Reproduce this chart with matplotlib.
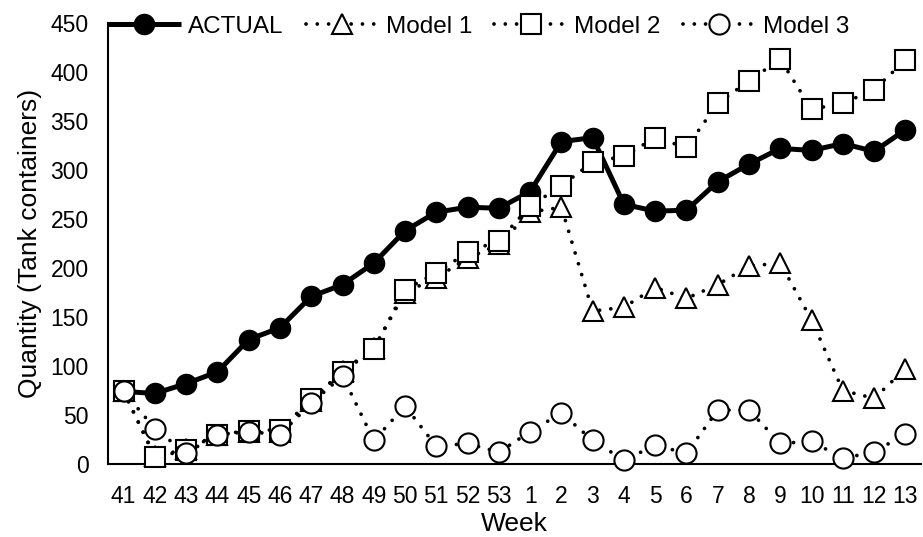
import matplotlib
matplotlib.use("Agg")
import matplotlib.pyplot as plt
import numpy as np

plt.rcParams["font.family"] = ["Liberation Sans", "DejaVu Sans"]

weeks = ["41", "42", "43", "44", "45", "46", "47", "48", "49", "50", "51", "52", "53",
         "1", "2", "3", "4", "5", "6", "7", "8", "9", "10", "11", "12", "13"]

actual = [74, 72, 82, 94, 127, 139, 171, 183, 205, 238, 257, 262, 261,
          278, 329, 333, 265, 258, 259, 288, 306, 322, 320, 327, 319, 341]
model1 = [74, 8, 15, 30, 33, 33, 64, 95, 118, 175, 190, 210, 224,
          257, 262, 156, 160, 180, 169, 183, 202, 205, 147, 75, 67, 97]
model2 = [74, 7, 14, 30, 34, 35, 66, 94, 117, 178, 195, 216, 228,
          263, 284, 308, 314, 333, 323, 368, 391, 413, 362, 368, 382, 412]
model3 = [74, 36, 11, 30, 33, 30, 62, 90, 24, 59, 18, 21, 12,
          33, 52, 24, 4, 19, 11, 55, 55, 21, 23, 6, 12, 31]

series_labels = ["ACTUAL", "Model 1", "Model 2", "Model 3"]
y_ticks = [0, 50, 100, 150, 200, 250, 300, 350, 400, 450]

fig = plt.figure(figsize=(9.23, 5.37), dpi=100)
ax = fig.add_axes([108 / 923, 73 / 537, 813 / 923, 441 / 537])

x = np.arange(len(weeks))
dotted = (0, (0.01, 3.0))

ax.plot(x, actual, color="black", lw=3.6, marker="o", ms=14.5,
        markerfacecolor="black", markeredgecolor="black", label=series_labels[0],
        solid_capstyle="butt", zorder=3, clip_on=False)
ax.plot(x, model1, color="black", lw=2.7, ls=dotted, dash_capstyle="round",
        marker="^", ms=15, markerfacecolor="white", markeredgecolor="black",
        markeredgewidth=1.5, label=series_labels[1], zorder=4, clip_on=False)
ax.plot(x, model2, color="black", lw=2.7, ls=dotted, dash_capstyle="round",
        marker="s", ms=14, markerfacecolor="white", markeredgecolor="black",
        markeredgewidth=1.5, label=series_labels[2], zorder=5, clip_on=False)
ax.plot(x, model3, color="black", lw=2.7, ls=dotted, dash_capstyle="round",
        marker="o", ms=14.5, markerfacecolor="white", markeredgecolor="black",
        markeredgewidth=1.5, label=series_labels[3], zorder=6, clip_on=False)

ax.set_xlim(-0.5, len(weeks) - 0.5)
ax.set_ylim(0, 450)
ax.set_xticks(x)
ax.set_xticklabels(weeks)
ax.set_yticks(y_ticks)
ax.tick_params(axis="both", length=0, labelsize=16.5)
ax.tick_params(axis="x", pad=15)
ax.tick_params(axis="y", pad=14)

for side in ("top", "right"):
    ax.spines[side].set_visible(False)
ax.spines["left"].set_linewidth(1.5)
ax.spines["bottom"].set_linewidth(1.5)
ax.spines["left"].set_zorder(1)
ax.spines["bottom"].set_zorder(1)

ax.set_xlabel("Week", fontsize=19, labelpad=3)
ax.set_ylabel("Quantity (Tank containers)", fontsize=19, labelpad=6)

ax.legend(loc="center left", bbox_to_anchor=(0.0, 0.992), ncol=4,
          frameon=False, fontsize=17.5, handlelength=3.0,
          handletextpad=0.3, columnspacing=0.9, borderpad=0,
          borderaxespad=0)

fig.savefig("out.png", dpi=100)
